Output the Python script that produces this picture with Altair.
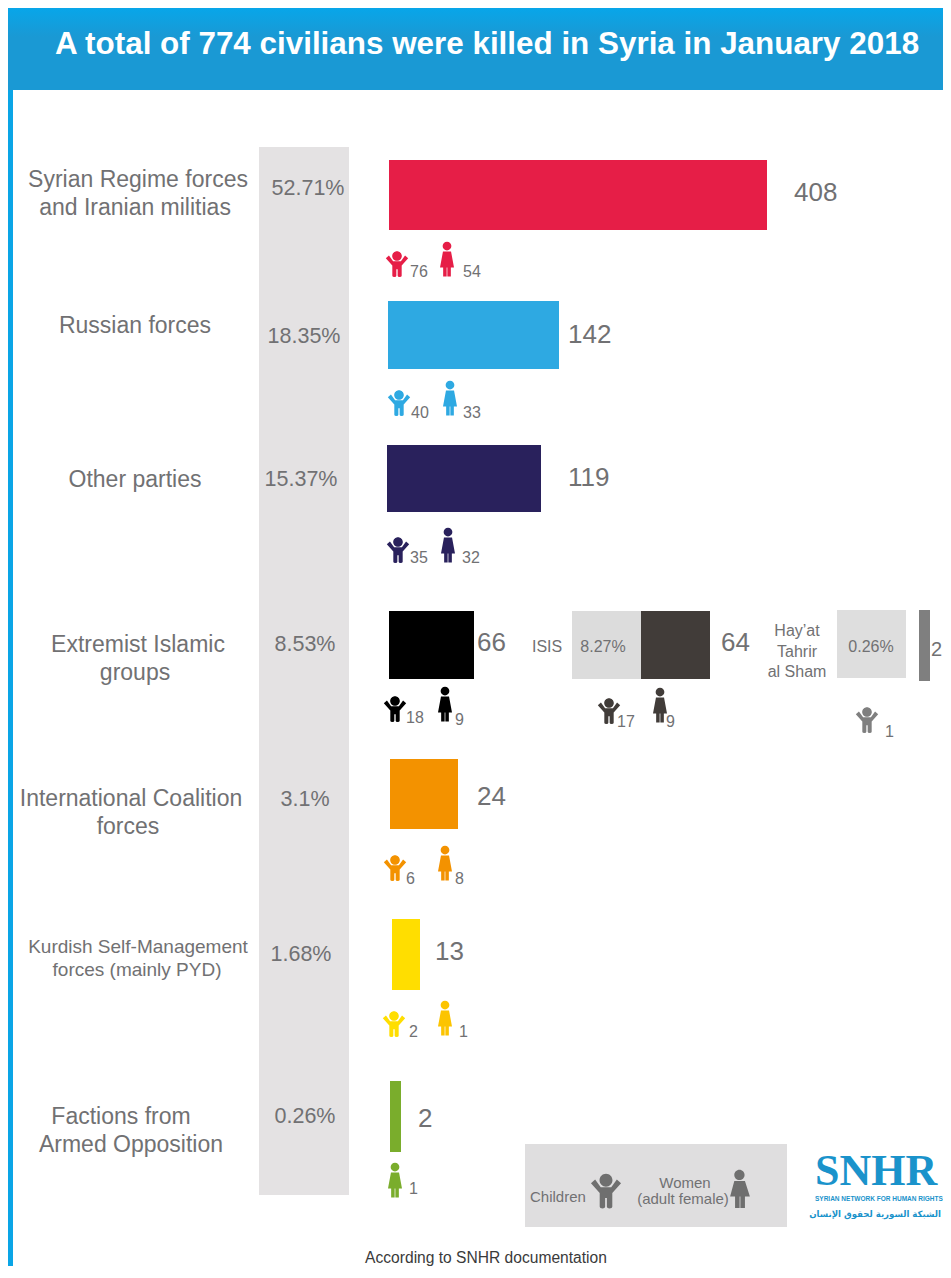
import altair as alt
import pandas as pd

# ---------- values ----------
title = "A total of 774 civilians were killed in Syria in January 2018"
groups = ["Syrian Regime forces and Iranian militias", "Russian forces", "Other parties",
          "Extremist Islamic groups", "ISIS", "Hay'at Tahrir al Sham",
          "International Coalition forces", "Kurdish Self-Management forces (mainly PYD)",
          "Factions from Armed Opposition"]
totals = [408, 142, 119, 66, 64, 2, 24, 13, 2]
shares = ["52.71%", "18.35%", "15.37%", "8.53%", "8.27%", "0.26%", "3.1%", "1.68%", "0.26%"]
children = [76, 40, 35, 18, 17, 1, 6, 2, None]
women = [54, 33, 32, 9, 9, None, 8, 1, 1]
colors = ["#e61e47", "#2ea9e2", "#29215c", "#000000", "#413c39", "#7f7f7f", "#f39200", "#ffde00", "#7aad2c"]
woman_colors = ["#e61e47", "#2ea9e2", "#29215c", "#000000", "#413c39", "#7f7f7f", "#f39200", "#fcc400", "#7aad2c"]

# ---------- layout of the infographic (window pixels) ----------
M = 8
W, H = 943 - M, 1266 - M
GRAY = "#717173"
TEXT_DY = 1.6   # middle baseline sits a little high with these fonts
bar_left = [389, 388, 387, 389, 641, 919, 390, 392, 390]
bar_top = [160, 301, 445, 611, 611, 610, 759, 919, 1081]
bar_bot = [230, 369, 512, 679, 679, 681, 829, 990, 1152]
# the source's bars are not drawn to one linear scale: piecewise count -> length
len_domain = [0, 2, 13, 24, 64, 66, 119, 142, 408]
len_range = [0, 11, 28, 68, 69, 85, 154, 171, 378]
total_pos = [(794, 191, 26), (568, 333, 26), (568, 476, 26), (477, 641, 26), (721, 641, 26), (931, 648, 20),
             (477, 795, 26), (435, 950, 26), (418, 1117, 26)]
share_pos = [(308, 187, 21.5), (304, 335, 21.5), (301, 478, 21.5), (305, 643, 21.5), (603, 645, 16), (871, 645, 16),
             (305, 798, 21.5), (301, 953, 21.5), (305, 1115, 21.5)]
child_pos = [(397, 264), (399, 403), (398, 550), (395, 709), (609, 711), (867, 720), (395, 868), (394, 1024), None]
child_lab = [(410, 270), (411, 411), (410, 556), (406, 716), (617, 720), (885, 730), (406, 877), (409, 1030), None]
woman_pos = [(447, 259), (450, 398), (448, 545), (445, 704), (660, 705), None, (445, 863), (445, 1018), (395, 1180)]
woman_lab = [(463, 270), (463, 411), (462, 556), (455, 718), (666, 720), None, (455, 877), (459, 1030), (409, 1187)]

labels_center = [
    ("Syrian Regime forces", 138, 178, 23), ("and Iranian militias", 135, 206, 23),
    ("Russian forces", 135, 324, 23), ("Other parties", 135, 478, 23),
    ("Extremist Islamic", 138, 643, 23), ("groups", 135, 671, 23),
    ("International Coalition", 131, 797, 23), ("forces", 128, 825, 23),
    ("Kurdish Self-Management", 138, 945, 19), ("forces (mainly PYD)", 137, 968, 19),
    ("Factions from", 121, 1115, 23), ("Armed Opposition", 131, 1143, 23),
    ("Hay\u2019at", 797, 629, 16), ("Tahrir", 797, 650, 16), ("al Sham", 797, 670, 16),
    ("Women", 685, 1181, 15), ("(adult female)", 683, 1197, 15),
]
labels_left = [("ISIS", 532, 645, 16), ("Children", 530, 1195, 15)]
rects = [
    (8, 13, 90, 1266, "#0aa5e6"),
    (259, 349, 147, 1195, "#e4e2e3"),
    (572, 641, 611, 679, "#dcdcdc"),
    (837, 906, 610, 678, "#dedede"),
    (525, 787, 1144, 1227, "#dfdedf"),
]

CHILD = ("M-.37 -.62A.37 .37 0 1 1 .37 -.62A.37 .37 0 1 1 -.37 -.62Z"
         "M-.62 -.66L-.3 -.22L.3 -.22L.62 -.66L.86 -.44L.36 .12L.36 .9Q.36 1 .2 1Q.05 1 .05 .9L.05 .4L-.05 .4L-.05 .9Q-.05 1 -.2 1Q-.36 1 -.36 .9L-.36 .12L-.86 -.44Z")
WOMAN = ("M-.25 -.74A.25 .25 0 1 1 .25 -.74A.25 .25 0 1 1 -.25 -.74Z"
         "M-.23 -.43L.23 -.43L.4 .48L.22 .48L.22 1L.02 1L.02 .48L-.02 .48L-.02 1L-.22 1L-.22 .48L-.4 .48Z")
WOMAN_WIDE = ("M-.3 -.74A.27 .27 0 1 1 .24 -.74A.27 .27 0 1 1 -.3 -.74Z"
              "M-.3 -.42L.26 -.42L.52 .4L.26 .4L.26 1L.02 1L.02 .4L-.02 .4L-.02 1L-.26 1L-.26 .4L-.52 .4Z")

NOX = dict(scale=None, axis=None)
def X(f): return alt.X(f, **NOX)
def Y(f): return alt.Y(f, **NOX)

def text_layer(rows, align, font="Liberation Sans", weight="normal"):
    df = pd.DataFrame(rows, columns=["t", "px", "py", "fs", "c"])
    df["px"] -= M
    df["py"] = df["py"] - M + TEXT_DY
    return alt.Chart(df).mark_text(align=align, baseline="middle", font=font, fontWeight=weight).encode(
        x=X("px:Q"), y=Y("py:Q"), text="t:N",
        size=alt.Size("fs:Q", scale=None, legend=None),
        color=alt.Color("c:N", scale=None, legend=None))

def icon_layer(rows, shape, size):
    df = pd.DataFrame(rows, columns=["px", "py", "c"])
    df["px"] -= M
    df["py"] -= M
    return alt.Chart(df).mark_point(shape=shape, filled=True, opacity=1, size=size, strokeWidth=0).encode(
        x=X("px:Q"), y=Y("py:Q"), color=alt.Color("c:N", scale=None, legend=None))

layers = []

# header band
head = pd.DataFrame({"a": [0], "b": [W], "t": [0], "u": [90 - M]})
layers.append(alt.Chart(head).mark_rect(color=alt.Gradient(
    gradient="linear", x1=0, x2=0, y1=0, y2=1,
    stops=[alt.GradientStop(color="#08a6e9", offset=0), alt.GradientStop(color="#1a99d4", offset=0.35),
           alt.GradientStop(color="#1a99d4", offset=1)])).encode(
    x=X("a:Q"), x2="b:Q", y=Y("t:Q"), y2="u:Q"))

# plain rectangles
rd = pd.DataFrame(rects, columns=["a", "b", "t", "u", "c"])
for k in "abtu":
    rd[k] -= M
layers.append(alt.Chart(rd).mark_rect().encode(
    x=X("a:Q"), x2="b:Q", y=Y("t:Q"), y2="u:Q", color=alt.Color("c:N", scale=None, legend=None)))

# bars: length comes from the count through a shared scale
xs = alt.Scale(domain=len_domain, range=len_range, zero=False, nice=False)
for i, g in enumerate(groups):
    d = pd.DataFrame({"group": [g], "total": [totals[i]], "zero": [0],
                      "t": [bar_top[i] - M], "u": [bar_bot[i] - M]})
    off = bar_left[i] - M
    layers.append(alt.Chart(d).mark_rect(color=colors[i], xOffset=off, x2Offset=off).encode(
        x=alt.X("total:Q", scale=xs, axis=None), x2="zero:Q", y=Y("t:Q"), y2="u:Q"))

# texts
t_center = [(t, x, y, s, GRAY) for t, x, y, s in labels_center]
t_center += [(s, p[0], p[1], p[2], GRAY) for s, p in zip(shares, share_pos)]
t_center.append(("According to SNHR documentation", 486, 1256, 15.6, "#3a3a3a"))
layers.append(text_layer(t_center, "center"))
t_left = [(t, x, y, s, GRAY) for t, x, y, s in labels_left]
t_left += [(str(v), p[0], p[1], p[2], GRAY) for v, p in zip(totals, total_pos)]
for arr, pos in ((children, child_lab), (women, woman_lab)):
    t_left += [(str(v), p[0], p[1], 16, GRAY) for v, p in zip(arr, pos) if v is not None]
layers.append(text_layer(t_left, "left"))
layers.append(text_layer([(title, 487, 43, 31.4, "#ffffff")], "center", weight="bold"))

# icons
layers.append(icon_layer([(p[0], p[1], c) for p, c in zip(child_pos, colors) if p], CHILD, 676))
layers.append(icon_layer([(p[0], p[1], c) for p, c in zip(woman_pos, woman_colors) if p], WOMAN, 1225))
layers.append(icon_layer([(606, 1191, "#6f6f6f")], CHILD, 1225))
layers.append(icon_layer([(740, 1189, "#6f6f6f")], WOMAN_WIDE, 1444))

# logo
layers.append(text_layer([("SNHR", 815, 1170, 44, "#1a93cb")], "left", font="Liberation Serif", weight="bold"))
layers.append(text_layer([("SYRIAN NETWORK FOR HUMAN RIGHTS", 815, 1197, 6.5, "#1a93cb")], "left", weight="bold"))
layers.append(text_layer([("\u0627\u0644\u0634\u0628\u0643\u0629 \u0627\u0644\u0633\u0648\u0631\u064a\u0629 \u0644\u062d\u0642\u0648\u0642 \u0627\u0644\u0625\u0646\u0633\u0627\u0646", 941, 1212, 8.6, "#1a93cb")],
                          "right", font="DejaVu Sans", weight="bold"))

chart = alt.layer(*layers).resolve_scale(x="independent", y="independent").properties(
    width=W, height=H, padding=0, autosize="none", background="#ffffff"
).configure_view(stroke=None)

chart.save("out.html", embed_options={"renderer": "svg", "actions": False})
